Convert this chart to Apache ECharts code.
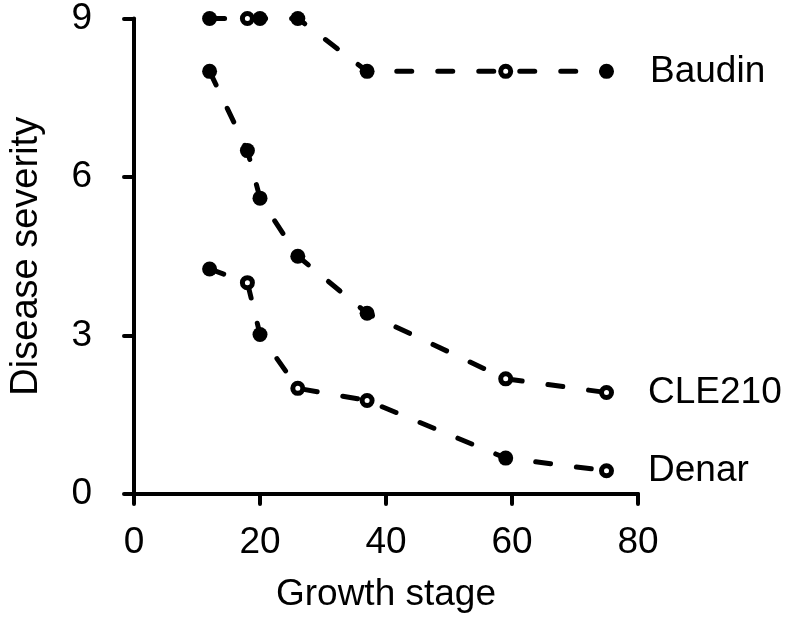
<!DOCTYPE html>
<html>
<head>
<meta charset="utf-8">
<script src="https://cdn.jsdelivr.net/npm/echarts@6/dist/echarts.min.js"></script>
<style>html,body{margin:0;padding:0;background:#fff}#c{width:789px;height:618px}</style>
</head>
<body>
<div id="c"></div>
<script>
// Growth stage (x) values
const growthStage = [12, 18, 20, 26, 37, 59, 75];
// Disease severity per variety
const baudin = [9, 9, 9, 9, 8, 8, 8];
const cle210 = [8, 6.5, 5.6, 4.5, 3.42, 2.18, 1.92];
const denar  = [4.26, 4.0, 3.02, 2.0, 1.77, 0.68, 0.44];
// marker type: 1 = open circle, 0 = filled circle
const baudinOpen = [0, 1, 0, 0, 0, 1, 0];
const cle210Open = [0, 0, 0, 0, 0, 1, 1];
const denarOpen  = [0, 1, 0, 1, 1, 0, 1];
const seriesNames = ['Baudin', 'CLE210', 'Denar'];
const xTicks = [0, 20, 40, 60, 80];
const yTicks = [0, 3, 6, 9];

const FONT = 'Liberation Sans';
const FS = 37;

function buildSeries(name, vals, open) {
  return {
    type: 'line',
    name: name,
    symbol: 'circle',
    symbolSize: (v, p) => (open[p.dataIndex] ? 10 : 15),
    lineStyle: { color: '#000', width: 5, type: [15, 26], cap: 'round' },
    z: 2,
    data: vals.map((v, i) => {
      const item = {
        value: [growthStage[i], v],
        itemStyle: open[i]
          ? { color: '#fff', borderColor: '#000', borderWidth: 5 }
          : { color: '#000', borderColor: '#000', borderWidth: 0 }
      };
      if (i === vals.length - 1) {
        item.label = {
          show: true, position: 'right', distance: open[i] ? 34 : 36,
          formatter: name, color: '#000', fontSize: FS, fontFamily: FONT
        };
      }
      return item;
    })
  };
}

const chart = echarts.init(document.getElementById('c'), null, { renderer: 'canvas' });
chart.setOption({
  animation: false,
  backgroundColor: '#fff',
  grid: { left: 132, right: 151, top: 18, bottom: 122, containLabel: false },
  xAxis: {
    type: 'value', min: xTicks[0], max: xTicks[xTicks.length - 1], interval: 20,
    position: 'bottom', offset: 20,
    name: 'Growth stage', nameLocation: 'middle', nameGap: 62,
    nameTextStyle: { fontSize: FS, fontFamily: FONT, color: '#000' },
    axisLine: { show: true, lineStyle: { color: '#000', width: 4, cap: 'round' } },
    axisTick: { show: true, length: 10, lineStyle: { color: '#000', width: 4, cap: 'round' } },
    axisLabel: { fontSize: FS, fontFamily: FONT, color: '#000', margin: 10 },
    splitLine: { show: false }
  },
  yAxis: {
    type: 'value', min: yTicks[0], max: yTicks[yTicks.length - 1], interval: 3,
    position: 'left', offset: 22,
    name: 'Disease severity', nameLocation: 'middle', nameGap: 66, nameRotate: 90,
    nameTextStyle: { fontSize: 38, fontFamily: FONT, color: '#000' },
    axisLine: { show: true, lineStyle: { color: '#000', width: 4, cap: 'round' } },
    axisTick: { show: true, length: 10, lineStyle: { color: '#000', width: 4, cap: 'round' } },
    axisLabel: { fontSize: FS, fontFamily: FONT, color: '#000', margin: 20 },
    splitLine: { show: false }
  },
  series: [
    buildSeries(seriesNames[0], baudin, baudinOpen),
    buildSeries(seriesNames[1], cle210, cle210Open),
    buildSeries(seriesNames[2], denar, denarOpen)
  ]
});
</script>
</body>
</html>
